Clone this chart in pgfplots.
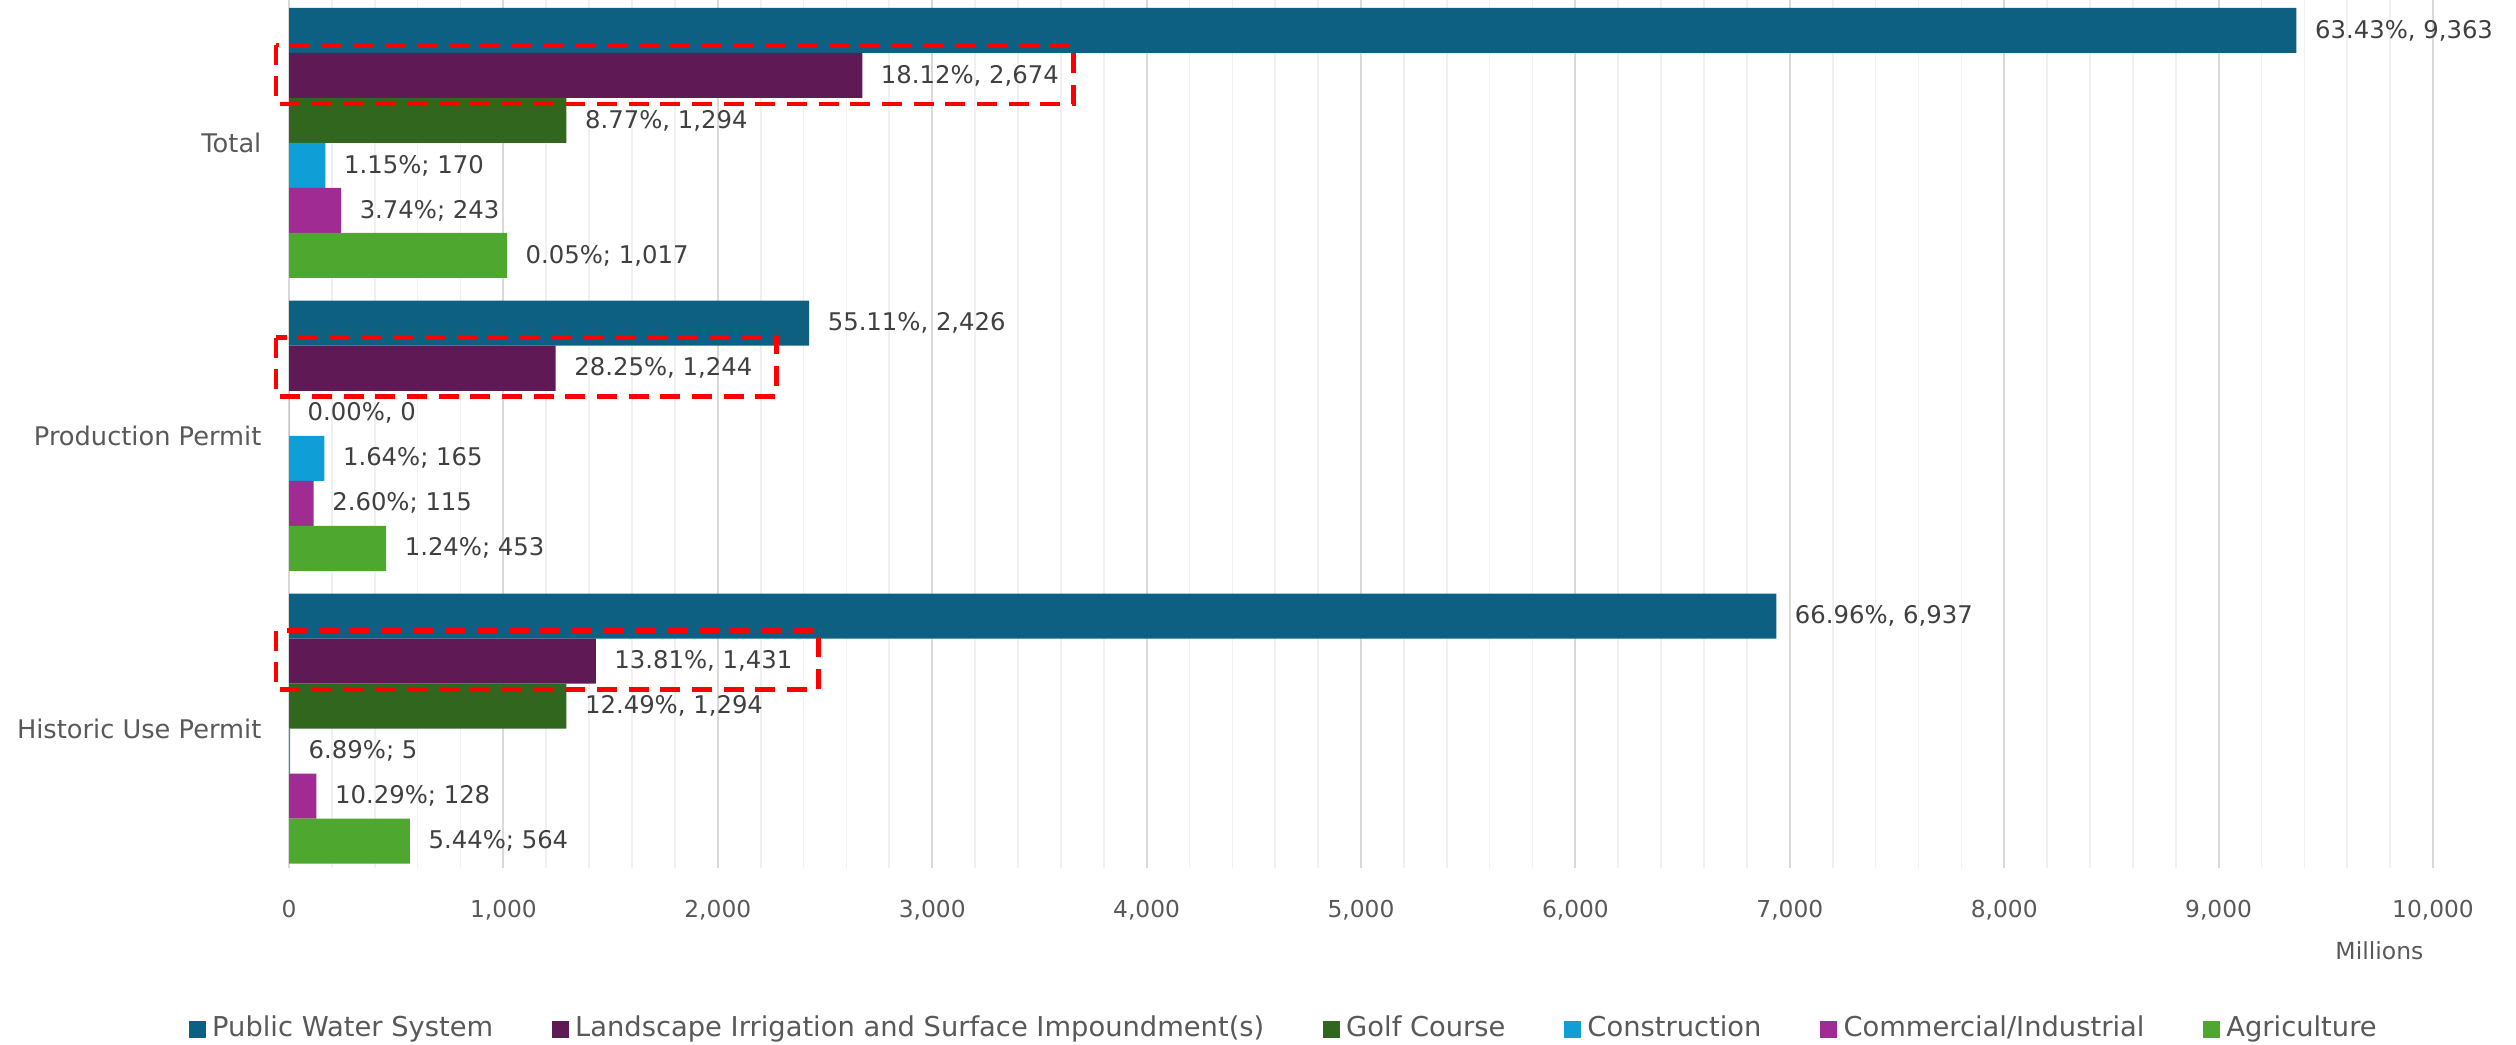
\documentclass[border=0pt]{standalone}
\usepackage{fontspec}
\setmainfont{DejaVu Sans}
\usepackage{pgfplots}
\pgfplotsset{compat=1.18}
\protected\def\sc{;}
\definecolor{cPWS}{RGB}{14,96,130}
\definecolor{cLI}{RGB}{95,26,85}
\definecolor{cGC}{RGB}{49,102,30}
\definecolor{cCO}{RGB}{15,158,213}
\definecolor{cCI}{RGB}{160,43,147}
\definecolor{cAG}{RGB}{78,167,46}
\definecolor{lbl}{RGB}{64,64,64}
\definecolor{tck}{RGB}{89,89,89}
\definecolor{gmaj}{RGB}{217,217,217}
\definecolor{gmin}{RGB}{240,240,240}
\begin{document}
\begin{tikzpicture}[x=1pt,y=1pt]
\path[use as bounding box] (0,0) rectangle (754.8,313.2);
\begin{axis}[
  at={(86.7pt,52.8pt)}, anchor=south west,
  scale only axis, width=643.2pt, height=260.4pt,
  xbar, bar width=0.1537,
  y dir=reverse,
  xmin=0, xmax=10000, ymin=-0.488, ymax=2.476,
  ytick={0,1,2},
  yticklabels={Total, Production Permit, Historic Use Permit},
  xtick={0,1000,...,10000}, minor x tick num=4,
  xmajorgrids, xminorgrids,
  major grid style={draw=gmaj, line width=0.6pt},
  minor grid style={draw=gmin, line width=0.5pt},
  scaled x ticks=false,
  /pgf/number format/assume math mode=true,
  /pgf/number format/1000 sep={,},
  xticklabel style={font=\fontsize{7.0}{8}\selectfont, text=tck, inner sep=0pt, yshift=-9.35pt},
  yticklabel style={font=\fontsize{7.7}{9}\selectfont, text=tck, inner sep=0pt, xshift=-8.1pt},
  major tick length=0pt, minor tick length=0pt,
  axis line style={draw=none},
  clip=false,
  nodes near coords, point meta=explicit symbolic,
  nodes near coords style={anchor=west, inner sep=0pt, xshift=5.4pt, font=\fontsize{7.3}{9}\selectfont, text=lbl},
  every axis plot/.append style={draw=none, legend image code/.code={\draw[##1,draw=none] (0pt,-2.55pt) rectangle (5.1pt,2.55pt);}},
  legend columns=6,
  legend cell align=left,
  legend style={at={(0.465,-0.1855)}, anchor=center, draw=none, fill=none,
    font=\fontsize{8.2}{9}\selectfont, text=tck, inner sep=0pt,
    /tikz/every even column/.append style={column sep=15.5pt}},
]
\addplot[fill=cPWS, bar shift=-0.38425] coordinates {
  (9363,0) [63.43\%, 9,363]
  (2426,1) [55.11\%, 2,426]
  (6937,2) [66.96\%, 6,937]
};
\addlegendentry{Public Water System}
\addplot[fill=cLI, bar shift=-0.23055] coordinates {
  (2674,0) [18.12\%, 2,674]
  (1244,1) [28.25\%, 1,244]
  (1431,2) [13.81\%, 1,431]
};
\addlegendentry{Landscape Irrigation and Surface Impoundment(s)}
\addplot[fill=cGC, bar shift=-0.07685] coordinates {
  (1294,0) [8.77\%, 1,294]
  (0,1) [0.00\%, 0]
  (1294,2) [12.49\%, 1,294]
};
\addlegendentry{Golf Course}
\addplot[fill=cCO, bar shift=0.07685] coordinates {
  (170,0) [1.15\%\sc{} 170]
  (165,1) [1.64\%\sc{} 165]
  (5,2) [6.89\%\sc{} 5]
};
\addlegendentry{Construction}
\addplot[fill=cCI, bar shift=0.23055] coordinates {
  (243,0) [3.74\%\sc{} 243]
  (115,1) [2.60\%\sc{} 115]
  (128,2) [10.29\%\sc{} 128]
};
\addlegendentry{Commercial/Industrial}
\addplot[fill=cAG, bar shift=0.38425] coordinates {
  (1017,0) [0.05\%\sc{} 1,017]
  (453,1) [1.24\%\sc{} 453]
  (564,2) [5.44\%\sc{} 564]
};
\addlegendentry{Agriculture}
\draw[red, line width=1.3pt, dash pattern=on 6pt off 3.5pt] (axis cs:-61,-0.335) rectangle (axis cs:3659,-0.134);
\draw[red, line width=1.3pt, dash pattern=on 6pt off 3.5pt] (axis cs:-61,0.665) rectangle (axis cs:2274,0.866);
\draw[red, line width=1.3pt, dash pattern=on 6pt off 3.5pt] (axis cs:-61,1.665) rectangle (axis cs:2469,1.866);
\node[font=\fontsize{7.05}{8}\selectfont, text=tck] at (axis description cs:0.975,-0.0956) {Millions};
\end{axis}
\end{tikzpicture}
\end{document}
